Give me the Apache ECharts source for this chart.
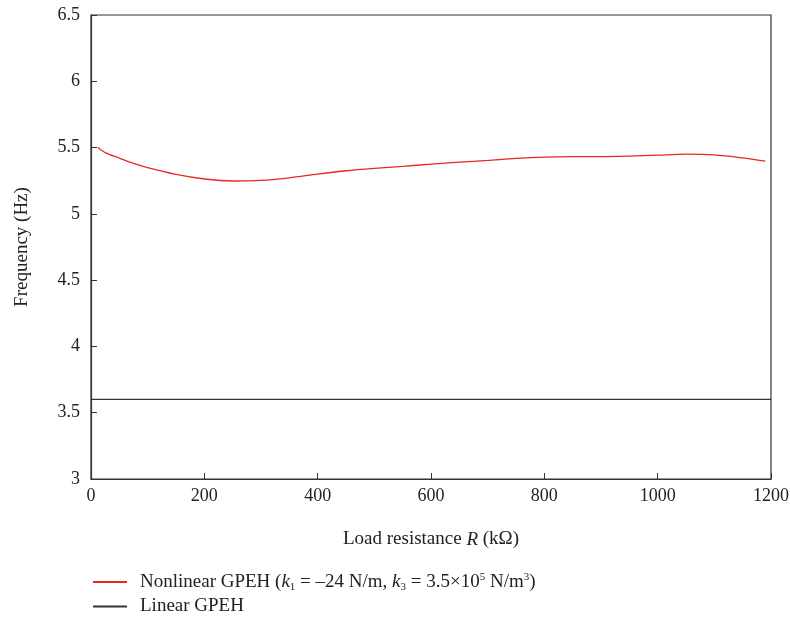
<!DOCTYPE html>
<html>
<head>
<meta charset="utf-8">
<script src="https://cdn.jsdelivr.net/npm/echarts@6/dist/echarts.min.js"></script>
<style>
  html, body { margin: 0; padding: 0; background: #fff; }
  #chart { width: 790px; height: 618px; }
</style>
</head>
<body>
<div id="chart"></div>
<script>
// Load resistance (kΩ) and resonance frequency (Hz)
const resistance = [12, 25, 50, 75, 100, 150, 200, 250, 300, 350, 400, 450, 500, 550, 600, 650, 700, 750, 800, 850, 900, 950, 1000, 1050, 1100, 1150, 1190];
const nonlinearFreq = [5.50, 5.462, 5.42, 5.38, 5.348, 5.297, 5.263, 5.248, 5.252, 5.272, 5.30, 5.325, 5.343, 5.358, 5.375, 5.39, 5.403, 5.418, 5.428, 5.432, 5.432, 5.436, 5.443, 5.45, 5.445, 5.422, 5.397];
const linearR = [0, 1200];
const linearFreq = [3.6, 3.6];
const xTicks = [0, 200, 400, 600, 800, 1000, 1200];
const yTicks = [3, 3.5, 4, 4.5, 5, 5.5, 6, 6.5];

const FONT = '"Liberation Serif", "DejaVu Serif", serif';
const AXIS_COLOR = '#333';
const TEXT = '#222';

const legendText = {
  fontFamily: FONT, fontSize: 19, color: TEXT, padding: [0, 0, 0, 8],
  rich: {
    n: { fontFamily: FONT, fontSize: 19, color: TEXT },
    i: { fontFamily: FONT, fontSize: 19, fontStyle: 'italic', color: TEXT },
    sub: { fontFamily: FONT, fontSize: 11, color: TEXT, padding: [11, 0, 0, 0] },
    sup: { fontFamily: FONT, fontSize: 11, color: TEXT, padding: [0, 0, 9, 0] }
  }
};
const legendLabel = name => name === 'nonlinear'
  ? '{n|Nonlinear GPEH (}{i|k}{sub|1}{n| = –24 N/m, }{i|k}{sub|3}{n| = 3.5×10}{sup|5}{n| N/m}{sup|3}{n|)}'
  : '{n|Linear GPEH}';

const chart = echarts.init(document.getElementById('chart'));
chart.setOption({
  animation: false,
  backgroundColor: '#fff',
  grid: { left: 91, right: 19, top: 15, bottom: 139, show: true, borderColor: AXIS_COLOR, borderWidth: 1.2, outerBoundsMode: 'none', containLabel: false },
  xAxis: {
    type: 'value', min: 0, max: 1200, interval: 200,
    name: '{n|Load resistance }{i|R}{n| (kΩ)}',
    nameLocation: 'middle', nameGap: 51,
    nameTextStyle: { rich: { n: { fontFamily: FONT, fontSize: 19, color: TEXT }, i: { fontFamily: FONT, fontSize: 19, fontStyle: 'italic', color: TEXT } } },
    axisLine: { lineStyle: { color: AXIS_COLOR, width: 1.2 } },
    axisTick: { inside: true, length: 6, lineStyle: { color: AXIS_COLOR } },
    axisLabel: { fontFamily: FONT, fontSize: 18, color: TEXT, margin: 8,
      formatter: v => xTicks.includes(v) ? String(v) : '' },
    splitLine: { show: false }
  },
  yAxis: {
    type: 'value', min: 3, max: 6.5, interval: 0.5,
    name: 'Frequency (Hz)', nameLocation: 'middle', nameGap: 59,
    nameTextStyle: { fontFamily: FONT, fontSize: 19, color: TEXT },
    axisLine: { lineStyle: { color: AXIS_COLOR, width: 1.2 } },
    axisTick: { inside: true, length: 6, lineStyle: { color: AXIS_COLOR } },
    axisLabel: { fontFamily: FONT, fontSize: 18, color: TEXT, margin: 11,
      formatter: v => yTicks.includes(v) ? String(v) : '' },
    splitLine: { show: false }
  },
  legend: [
    { left: 88, top: 567, itemWidth: 34, itemHeight: 2, icon: 'rect', textStyle: legendText, formatter: legendLabel, data: ['nonlinear'] },
    { left: 88, top: 592, itemWidth: 34, itemHeight: 2, icon: 'rect', textStyle: legendText, formatter: legendLabel, data: ['linear'] }
  ],
  series: [
    {
      name: 'nonlinear', type: 'line', smooth: 0.3, symbol: 'none',
      lineStyle: { color: '#e8281e', width: 1.3 },
      itemStyle: { color: '#e8281e' },
      data: resistance.map((r, i) => [r, nonlinearFreq[i]])
    },
    {
      name: 'linear', type: 'line', symbol: 'none',
      lineStyle: { color: '#333', width: 1.3 },
      itemStyle: { color: '#333' },
      data: linearR.map((r, i) => [r, linearFreq[i]])
    }
  ]
});
</script>
</body>
</html>
